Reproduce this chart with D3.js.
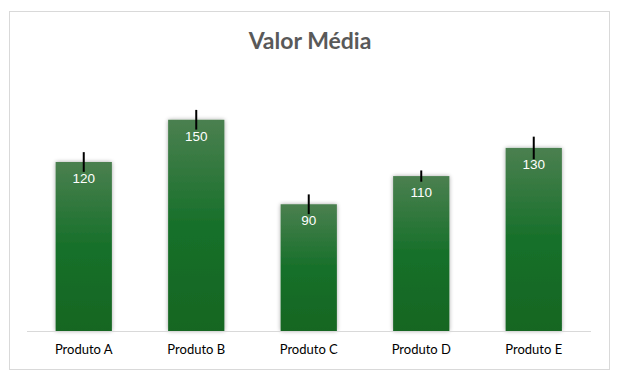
<!DOCTYPE html>
<html><head><meta charset="utf-8">
<script src="https://cdn.jsdelivr.net/npm/d3@7"></script>
<style>body{margin:0;background:#fff;}svg{display:block;}</style>
</head><body>
<script>
const categories = ["Produto A","Produto B","Produto C","Produto D","Produto E"];
const values = [120,150,90,110,130];
const errors = [7,7,7,4,8];
const title = "Valor Média";

const W=624,H=380;
const svg=d3.select("body").append("svg").attr("width",W).attr("height",H);
const defs=svg.append("defs");
const g=defs.append("linearGradient").attr("id","grad").attr("x1",0).attr("y1",0).attr("x2",0).attr("y2",1);
g.append("stop").attr("offset","0%").attr("stop-color","#4b8050");
g.append("stop").attr("offset","50%").attr("stop-color","#17702a");
g.append("stop").attr("offset","100%").attr("stop-color","#146622");
const f=defs.append("filter").attr("id","sh").attr("x","-20%").attr("y","-10%").attr("width","140%").attr("height","120%");
f.append("feGaussianBlur").attr("in","SourceAlpha").attr("stdDeviation",2).attr("result","b");
f.append("feOffset").attr("in","b").attr("dx",0).attr("dy",0).attr("result","o");
f.append("feComponentTransfer").attr("in","o").attr("result","o2").append("feFuncA").attr("type","linear").attr("slope",0.35);
const m=f.append("feMerge");m.append("feMergeNode").attr("in","o2");m.append("feMergeNode").attr("in","SourceGraphic");

svg.append("rect").attr("x",9.5).attr("y",11.5).attr("width",600).attr("height",358).attr("fill","#fff").attr("stroke","#d9d9d9");

svg.append("text").attr("x",310).attr("y",49).attr("text-anchor","middle")
  .attr("font-family","Lato, 'Open Sans', sans-serif").attr("font-weight","bold").attr("font-size",23)
  .attr("fill","#595959").text(title);

const x=d3.scaleBand().domain(categories).range([27.5,590]).paddingInner(0.5).paddingOuter(0.25);
const y=d3.scaleLinear().domain([0,240]).range([331,-7]);

const bars=svg.append("g");
bars.selectAll("rect").data(values).join("rect")
  .attr("x",(d,i)=>x(categories[i])).attr("width",x.bandwidth())
  .attr("y",d=>y(d)).attr("height",d=>y(0)-y(d))
  .attr("fill","url(#grad)").attr("filter","url(#sh)");

svg.append("line").attr("x1",27).attr("x2",591).attr("y1",331.5).attr("y2",331.5).attr("stroke","#d9d9d9").attr("stroke-width",1);

svg.append("g").selectAll("line").data(values).join("line")
  .attr("x1",(d,i)=>x(categories[i])+x.bandwidth()/2).attr("x2",(d,i)=>x(categories[i])+x.bandwidth()/2)
  .attr("y1",(d,i)=>y(d+errors[i])).attr("y2",(d,i)=>y(d-errors[i]))
  .attr("stroke","#000").attr("stroke-width",2);

svg.append("g").selectAll("text").data(values).join("text")
  .attr("x",(d,i)=>x(categories[i])+x.bandwidth()/2).attr("y",d=>y(d)+21)
  .attr("text-anchor","middle").attr("font-family","'Liberation Sans', Arial, sans-serif").attr("font-size",13.5)
  .attr("fill","#fff").text(d=>d);

const ax=svg.append("g").attr("transform","translate(0,331)").call(d3.axisBottom(x).tickSize(0).tickPadding(14));
ax.select(".domain").remove();
ax.selectAll("text").attr("font-family","Lato, 'Open Sans', sans-serif").attr("font-weight","normal").attr("font-size",13).attr("fill","#000");
</script>
</body></html>
